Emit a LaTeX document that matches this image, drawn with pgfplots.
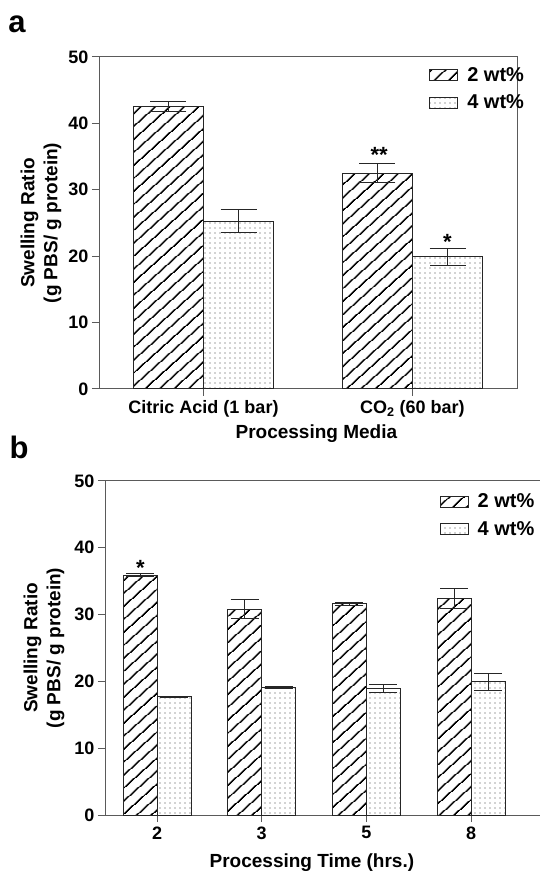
\documentclass[border=0pt]{standalone}
\usepackage{pgfplots}
\pgfplotsset{compat=1.18}
\usepackage{pgfplotstable}
\usetikzlibrary{patterns.meta}
\usepackage{fontspec}
\setmainfont{Liberation Sans}
\definecolor{axgray}{HTML}{5A5A5A}
\definecolor{barline}{HTML}{262626}

\pgfplotstableread{
x y err
0 42.5 0.75
1 32.5 1.4
}\aTwo
\pgfplotstableread{
x y err
0 25.3 1.8
1 19.9 1.3
}\aFour
\pgfplotstableread{
x y err
0 35.9 0.2
1 30.8 1.4
2 31.6 0.2
3 32.4 1.45
}\bTwo
\pgfplotstableread{
x y err
0 17.7 0.1
1 19.1 0.1
2 18.9 0.6
3 19.95 1.25
}\bFour

\pgfplotsset{
  common/.style={
    scale only axis, anchor=south west,
    ymin=0, ymax=50, ytick={0,10,...,50},
    tick align=outside, tick pos=left, major tick length=7bp,
    minor tick num=0,
    axis line style={draw=axgray, line width=1bp},
    every tick/.style={draw=axgray, line width=1bp},
    /pgf/number format/assume math mode=true,
    yticklabel style={font=\fontsize{18bp}{20bp}\selectfont\bfseries, xshift=0bp},
    xticklabel style={font=\fontsize{18bp}{20bp}\selectfont\bfseries, yshift=-1bp},
    every axis y label/.style={at={(axis description cs:#1,0.5)}, rotate=90, anchor=center, align=center,
      font=\fontsize{19bp}{23bp}\selectfont\bfseries},
    ybar=0pt,
    legend cell align=left,
    legend image code/.code={\draw[##1, line width=0.9bp] (0bp,-5.5bp) rectangle (28bp,5.5bp);},
    legend style={draw=none, fill=none, anchor=north west, font=\fontsize{20bp}{22bp}\selectfont\bfseries,
      row sep=8bp, inner sep=0pt, nodes={inner xsep=9bp, inner ysep=2bp}},
    error bars/y dir=both, error bars/y explicit,
    error bars/error bar style={line width=1bp, draw=barline},
  },
  two/.style={draw=barline, line width=1bp, pattern={Lines[angle=42,distance=10bp,line width=1.7bp]}, pattern color=black},
  four/.style={draw=barline, line width=1bp, pattern={Dots[distance=5bp,radius=0.6bp]}, pattern color=black!75},
}

\begin{document}
\begin{tikzpicture}
\useasboundingbox (0,0) rectangle (540bp,873bp);
\node[anchor=base, font=\fontsize{31bp}{33bp}\selectfont\bfseries] at (17bp,840bp) {a};
\node[anchor=base, font=\fontsize{31bp}{33bp}\selectfont\bfseries] at (19bp,414bp) {b};

\begin{axis}[common=-0.139,
  at={(99bp,484bp)}, width=418bp, height=332bp,
  xmin=-0.5, xmax=1.5, bar width=0.335,
  xtick={0,1}, xticklabels={Citric Acid (1 bar), CO\textsubscript{2} (60 bar)},
  xlabel={Processing Media},
  xlabel style={at={(axis description cs:0.52,-0.133)}, anchor=center, font=\fontsize{19bp}{21bp}\selectfont\bfseries},
  ylabel={Swelling Ratio\\(g PBS/ g protein)},
  legend style={at={(axis description cs:0.79,0.975)}},
  error bars/error mark options={rotate=90, mark size=18bp, line width=1bp, draw=barline},
]
\addplot[two] table[x=x, y=y, y error=err] {\aTwo};
\addplot[four] table[x=x, y=y, y error=err] {\aFour};
\legend{2 wt\%, 4 wt\%}
\node[anchor=base, font=\fontsize{22bp}{24bp}\selectfont\bfseries] at (axis cs:0.84,34.1) {**};
\node[anchor=base, font=\fontsize{22bp}{24bp}\selectfont\bfseries] at (axis cs:1.167,20.95) {*};
\end{axis}

\begin{axis}[common=-0.137,
  at={(105bp,58bp)}, width=445bp, height=334bp,
  xmin=-0.497, xmax=3.753, bar width=0.325,
  xtick={0,1,2,3}, xticklabels={2,3,5,8},
  xlabel={Processing Time (hrs.)},
  xlabel style={at={(axis description cs:0.465,-0.144)}, anchor=center, font=\fontsize{19bp}{21bp}\selectfont\bfseries},
  ylabel={Swelling Ratio\\(g PBS/ g protein)},
  legend style={at={(axis description cs:0.752,0.968)}},
  error bars/error mark options={rotate=90, mark size=14bp, line width=1bp, draw=barline},
]
\addplot[two] table[x=x, y=y, y error=err] {\bTwo};
\addplot[four] table[x=x, y=y, y error=err] {\bFour};
\legend{2 wt\%, 4 wt\%}
\node[anchor=base, font=\fontsize{22bp}{24bp}\selectfont\bfseries] at (axis cs:-0.16,35.8) {*};
\end{axis}
\end{tikzpicture}
\end{document}
